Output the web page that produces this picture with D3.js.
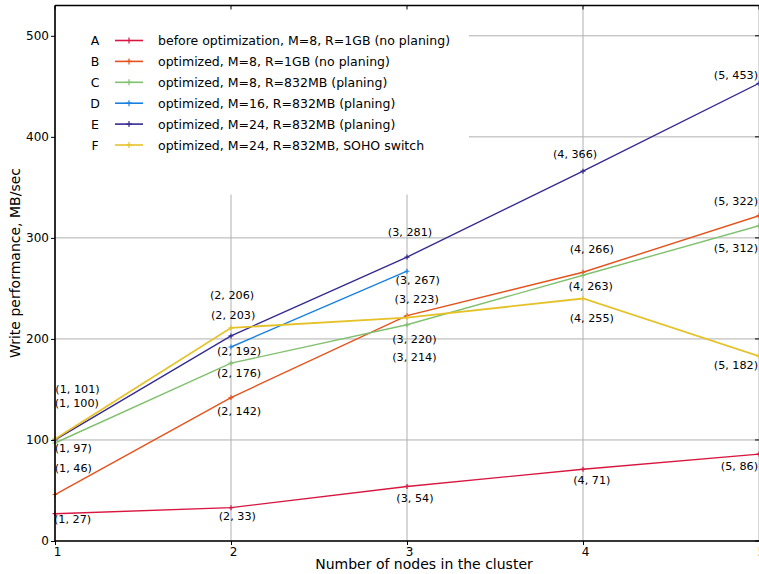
<!DOCTYPE html>
<html><head><meta charset="utf-8">
<script src="https://cdn.jsdelivr.net/npm/d3@7"></script>
<style>
body{margin:0;background:#fff;}
text{font-family:"DejaVu Sans",sans-serif;fill:#000;}
</style></head>
<body><svg id="c" width="759" height="574"></svg>
<script>
const nodes = [1, 2, 3, 4, 5];
const seriesKeys = ["A", "B", "C", "D", "E", "F"];
const seriesNames = [
  "before optimization, M=8, R=1GB (no planing)",
  "optimized, M=8, R=1GB (no planing)",
  "optimized, M=8, R=832MB (planing)",
  "optimized, M=16, R=832MB (planing)",
  "optimized, M=24, R=832MB (planing)",
  "optimized, M=24, R=832MB, SOHO switch"
];
const seriesColors = ["#d8163f", "#e4521c", "#80c06e", "#1a80e0", "#342a92", "#e6c22a"];
const valuesA = [27, 33, 54, 71, 86];
const valuesB = [46, 142, 223, 266, 322];
const valuesC = [97, 176, 214, 263, 312];
const valuesD = [null, 192, 267, null, null];
const valuesE = [100, 203, 281, 366, 453];
const valuesF = [101, 211, 221, 240, 183];
const yTicks = [0, 100, 200, 300, 400, 500];
const xTicks = [1, 2, 3, 4, 5];
// annotation texts and their positions in data units (x nodes, y MB/sec)
const labelTexts = ["(1, 101)","(1, 100)","(1, 97)","(1, 46)","(1, 27)",
  "(2, 206)","(2, 203)","(2, 192)","(2, 176)","(2, 142)","(2, 33)",
  "(3, 281)","(3, 267)","(3, 223)","(3, 220)","(3, 214)","(3, 54)",
  "(4, 366)","(4, 266)","(4, 263)","(4, 255)","(4, 71)",
  "(5, 453)","(5, 322)","(5, 312)","(5, 182)","(5, 86)"];
const labelX = [1.128,1.124,1.104,1.104,1.100, 2.006,2.012,2.046,2.046,2.046,2.036,
  3.017,3.061,3.055,3.042,3.042,3.045, 3.955,4.050,4.044,4.050,4.050, 4.869,4.869,4.869,4.869,4.889];
const labelY = [150.4,135.6,91.1,71.3,20.8, 242.5,222.9,187.4,165.6,127.7,24.7,
  305.0,258.3,239.3,199.7,182.1,42.0, 382.5,289.0,251.4,220.7,60.1, 460.9,336.5,289.7,173.5,73.3];

const svg = d3.select("#c");
const L = 55, R = 759, T = 5.5, B = 541;
const x = d3.scaleLinear().domain([1, 5]).range([L, R]);
const y = d3.scaleLinear().domain([0, 530]).range([B, T]);

// grid
const grid = svg.append("g");
grid.selectAll(".gx").data(xTicks).join("line")
  .attr("x1", d => x(d)).attr("x2", d => x(d)).attr("y1", T).attr("y2", B)
  .attr("stroke", "#b0b0b0").attr("stroke-width", 1);
grid.selectAll(".gy").data(yTicks).join("line")
  .attr("x1", L).attr("x2", R).attr("y1", d => y(d)).attr("y2", d => y(d))
  .attr("stroke", "#b0b0b0").attr("stroke-width", 1);

// legend background
svg.append("rect").attr("x", L + 1).attr("y", T + 1).attr("width", 413).attr("height", 188).attr("fill", "#fff");

// series
const allValues = [valuesA, valuesB, valuesC, valuesD, valuesE, valuesF];
const line = d3.line().defined(d => d[1] != null).x(d => x(d[0])).y(d => y(d[1]));
const plot = svg.append("g");
allValues.forEach((vals, i) => {
  const pts = nodes.map((n, j) => [n, vals[j]]);
  plot.append("path").datum(pts).attr("d", line).attr("fill", "none")
    .attr("stroke", seriesColors[i]).attr("stroke-width", i === 5 ? 1.8 : 1.4);
  plot.selectAll(null).data(pts.filter(p => p[1] != null)).join("path")
    .attr("d", p => `M${x(p[0]) - 2.5},${y(p[1])}h5M${x(p[0])},${y(p[1]) - 2.5}v5`)
    .attr("stroke", seriesColors[i]).attr("stroke-width", 1.2);
});

// annotations
svg.append("g").selectAll("text").data(labelTexts).join("text")
  .attr("x", (d, i) => x(labelX[i])).attr("y", (d, i) => y(labelY[i]))
  .attr("text-anchor", "middle").attr("dominant-baseline", "central")
  .attr("font-size", 11.2).text(d => d);

// frame
const frame = svg.append("g").attr("stroke", "#000").attr("stroke-width", 1.6);
frame.append("line").attr("x1", L).attr("x2", L).attr("y1", T).attr("y2", B);
frame.append("line").attr("x1", L).attr("x2", R + 2).attr("y1", B).attr("y2", B);
frame.append("line").attr("x1", L).attr("x2", R + 2).attr("y1", T).attr("y2", T);

// axes
const yAxis = svg.append("g").attr("transform", `translate(${L},0)`)
  .call(d3.axisLeft(y).tickValues(yTicks).tickSize(4).tickPadding(2));
const xAxis = svg.append("g").attr("transform", `translate(0,${B})`)
  .call(d3.axisBottom(x).tickValues(xTicks).tickSize(4).tickPadding(2).tickFormat(d3.format("d")));
[yAxis, xAxis].forEach(a => {
  a.select(".domain").remove();
  a.selectAll("line").attr("stroke", "#000").attr("stroke-width", 1);
  a.selectAll("text").attr("font-size", 12).attr("font-family", "DejaVu Sans").attr("fill", "#000");
});
xAxis.selectAll(".tick text").attr("dx", 2);
// inner ticks top/right
svg.append("g").selectAll("line").data(xTicks).join("line")
  .attr("x1", d => x(d)).attr("x2", d => x(d)).attr("y1", T).attr("y2", T + 4).attr("stroke", "#000");
svg.append("g").selectAll("line").data(yTicks).join("line")
  .attr("x1", R - 4).attr("x2", R).attr("y1", d => y(d)).attr("y2", d => y(d)).attr("stroke", "#000");

// legend
const leg = svg.append("g");
seriesKeys.forEach((k, i) => {
  const cy = 40.5 + i * 20.9;
  leg.append("text").attr("x", 95).attr("y", cy).attr("text-anchor", "middle")
    .attr("dominant-baseline", "central").attr("font-size", 12.5).text(k);
  leg.append("line").attr("x1", 115).attr("x2", 143).attr("y1", cy).attr("y2", cy)
    .attr("stroke", seriesColors[i]).attr("stroke-width", 1.6);
  leg.append("path").attr("d", `M126,${cy}h6M129,${cy - 3}v6`).attr("stroke", seriesColors[i]).attr("stroke-width", 1.2);
  leg.append("text").attr("x", 158).attr("y", cy).attr("dominant-baseline", "central")
    .attr("font-size", 12.5).text(seriesNames[i]);
});

// axis titles
svg.append("text").attr("x", 424).attr("y", 564).attr("text-anchor", "middle")
  .attr("dominant-baseline", "central").attr("font-size", 14).text("Number of nodes in the cluster");
svg.append("text").attr("transform", "translate(15,263) rotate(-90)").attr("text-anchor", "middle")
  .attr("dominant-baseline", "central").attr("font-size", 14).text("Write performance, MB/sec");
</script></body></html>
